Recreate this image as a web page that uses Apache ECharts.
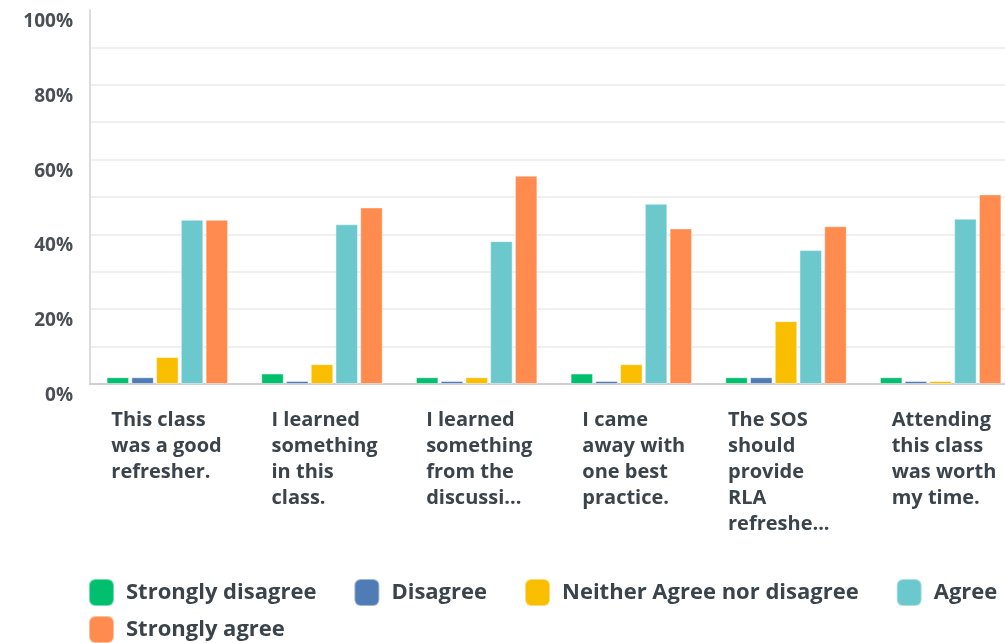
<!DOCTYPE html>
<html>
<head>
<meta charset="utf-8">
<script src="https://cdn.jsdelivr.net/npm/echarts@6/dist/echarts.min.js"></script>
<style>
  html, body { margin: 0; padding: 0; background: #fff; }
  #chart { width: 1005px; height: 643px; }
</style>
</head>
<body>
<div id="chart"></div>
<script>
// categories (question texts, already wrapped like the picture)
var questions = [
    "This class\nwas a good\nrefresher.",
    "I learned\nsomething\nin this\nclass.",
    "I learned\nsomething\nfrom the\ndiscussi...",
    "I came\naway with\none best\npractice.",
    "The SOS\nshould\nprovide\nRLA\nrefreshe...",
    "Attending\nthis class\nwas worth\nmy time."
];

// answer names and colours
var answerNames = ["Strongly disagree", "Disagree", "Neither Agree nor disagree", "Agree", "Strongly agree"];
var answerColors = ["#00bf6f", "#507cb6", "#f9be00", "#6bc8cd", "#ff8b4f"];

// percentages per answer
var stronglyDisagree = [1.8, 2.8, 1.8, 2.8, 1.8, 1.8];
var disagree = [1.8, 0, 0, 0, 1.8, 0];
var neither = [7.2, 5.3, 1.8, 5.3, 16.8, 0];
var agree = [43.9, 42.7, 38.2, 48.2, 35.8, 44.2];
var stronglyAgree = [43.9, 47.2, 55.7, 41.6, 42.2, 50.7];

var answerValues = [stronglyDisagree, disagree, neither, agree, stronglyAgree];

// label block widths so the left-aligned lines sit like the picture
var labelWidths = [112, 101, 101, 98, 116, 98];

var rich = {};
for (var i = 0; i < labelWidths.length; i++) {
    rich['w' + i] = {
        width: labelWidths[i],
        align: 'left',
        fontFamily: 'Open Sans',
        fontSize: 20,
        fontWeight: 'bold',
        lineHeight: 26,
        color: '#3b434b'
    };
}

var series = [];
for (var k = 0; k < answerNames.length; k++) {
    series.push({
        name: answerNames[k],
        type: 'bar',
        barWidth: 22.5,
        barGap: '10%',
        barMinHeight: 3,
        itemStyle: {
            color: answerColors[k],
            borderColor: 'rgba(255,255,255,0.45)',
            borderWidth: 1
        },
        data: answerValues[k]
    });
}

var Chart = echarts.init(document.getElementById('chart'));
Chart.setOption({
    animation: false,
    textStyle: { fontFamily: 'Open Sans' },
    grid: {
        left: 90,
        right: -13,
        top: 10,
        bottom: 259,
        outerBoundsMode: 'none'
    },
    legend: {
        left: 88,
        top: 578,
        width: 965,
        padding: 0,
        itemGap: 8,
        itemWidth: 25,
        itemHeight: 27,
        icon: 'roundRect',
        textStyle: {
            fontFamily: 'Open Sans',
            fontSize: 22,
            fontWeight: 'bold',
            color: '#3b434b',
            lineHeight: 28,
            padding: [0, 29, 0, 7]
        },
        data: answerNames
    },
    xAxis: {
        type: 'category',
        data: questions,
        axisLine: { lineStyle: { color: '#cfcfcf', width: 2 } },
        axisTick: { show: false },
        axisLabel: {
            interval: 0,
            margin: 23,
            formatter: function (value, index) {
                return '{w' + index + '|' + value + '}';
            },
            rich: rich
        }
    },
    yAxis: {
        type: 'value',
        min: 0,
        max: 100,
        interval: 10,
        axisLine: { show: true, lineStyle: { color: '#dcdcdc', width: 2 } },
        axisTick: { show: false },
        splitLine: { showMaxLine: false, lineStyle: { color: '#efefef', width: 2 } },
        axisLabel: {
            margin: 17,
            verticalAlign: 'top',
            padding: [2, 0, 0, 0],
            fontFamily: 'Open Sans',
            fontSize: 19,
            fontWeight: 'bold',
            color: '#4a4f55',
            formatter: function (v) {
                return v % 20 === 0 ? v + '%' : '';
            }
        }
    },
    series: series
});
</script>
</body>
</html>
